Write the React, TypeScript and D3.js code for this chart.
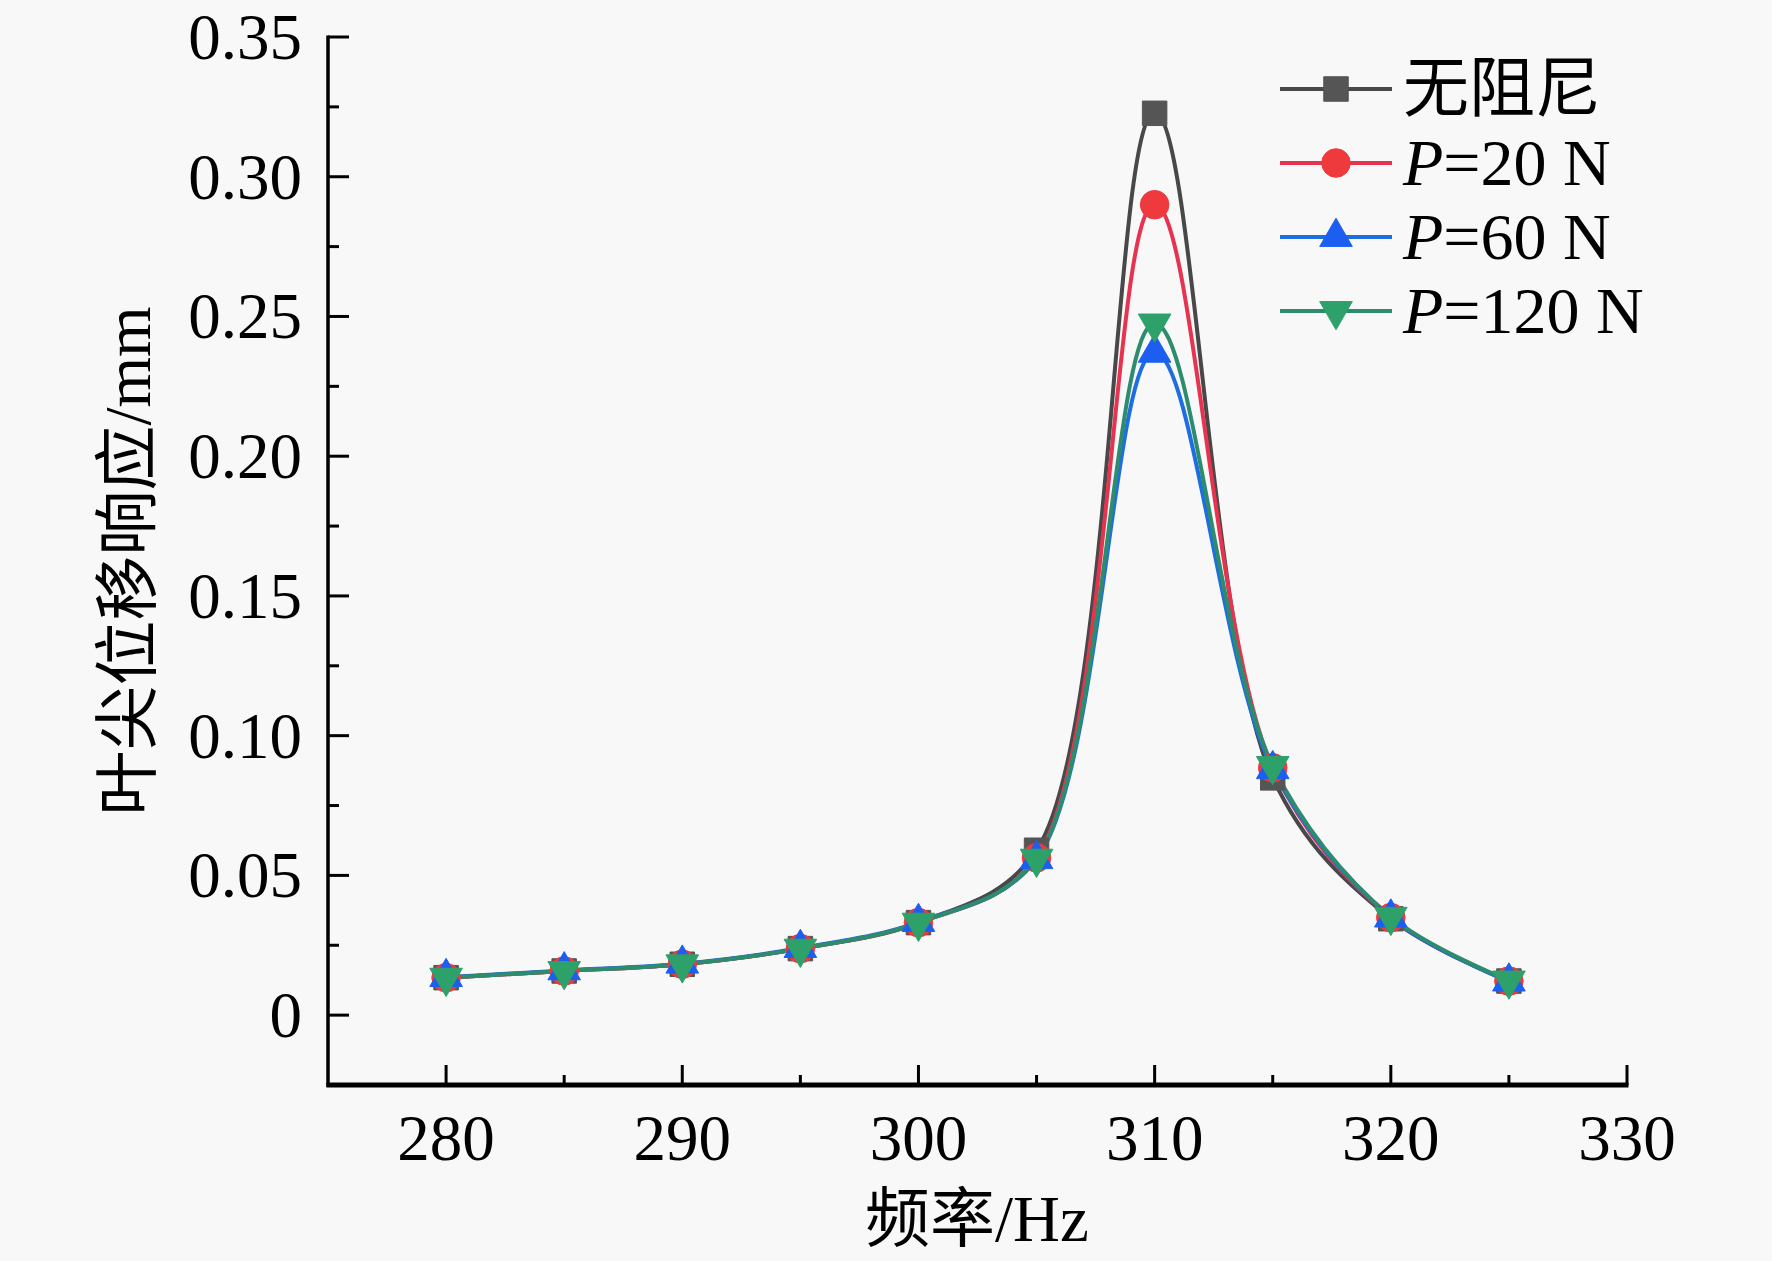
import React from 'react';
import * as d3 from 'd3';

const freq = [280, 285, 290, 295, 300, 305, 310, 315, 320, 325];
const undamped = [0.0134, 0.0158, 0.0182, 0.0238, 0.0331, 0.059, 0.3227, 0.0849, 0.0345, 0.0122];
const p20 = [0.0134, 0.0158, 0.0182, 0.0238, 0.0331, 0.0563, 0.290, 0.0885, 0.0349, 0.0122];
const p60 = [0.0136, 0.016, 0.0184, 0.024, 0.0333, 0.0558, 0.237, 0.088, 0.0349, 0.012];
const p120 = [0.0134, 0.0158, 0.0182, 0.0238, 0.0331, 0.056, 0.2475, 0.0892, 0.0352, 0.0124];

const seriesNames = ['无阻尼', 'P=20 N', 'P=60 N', 'P=120 N'];
const xTicks = [280, 290, 300, 310, 320, 330];
const xMinor = [285, 295, 305, 315, 325];
const yTicks = [0, 0.05, 0.1, 0.15, 0.2, 0.25, 0.3, 0.35];
const yMinor = [0.025, 0.075, 0.125, 0.175, 0.225, 0.275, 0.325];

const W = 1772;
const H = 1261;
const FONT = '"Times New Roman", "Liberation Serif", "Noto Sans CJK SC", serif';

const series = [
  { name: seriesNames[0], values: undamped, line: '#484848', fill: '#555555', shape: 'square' },
  { name: seriesNames[1], values: p20, line: '#e6334f', fill: '#ee3a3c', shape: 'circle' },
  { name: seriesNames[2], values: p60, line: '#1f6ee0', fill: '#1c5ff0', shape: 'up' },
  { name: seriesNames[3], values: p120, line: '#2e8c6e', fill: '#2ea06a', shape: 'down' },
];

function symbolPath(shape: string) {
  if (shape === 'square') return d3.symbol(d3.symbolSquare, 600)()!;
  if (shape === 'circle') return d3.symbol(d3.symbolCircle, 640)()!;
  return d3.symbol(d3.symbolTriangle, 460)()!;
}

function Marker({ x, y, shape, fill }: { x: number; y: number; shape: string; fill: string }) {
  const rot = shape === 'down' ? ' rotate(180)' : '';
  return (
    <path
      d={symbolPath(shape)}
      transform={`translate(${x},${y})${rot}`}
      fill={fill}
      stroke={fill}
      strokeWidth={1}
    />
  );
}

export default function App() {
  const x = d3.scaleLinear().domain([275, 330]).range([328, 1627]);
  const y = d3.scaleLinear().domain([-0.025, 0.35]).range([1085, 37]);

  const line = d3
    .line<number>()
    .x((_, i) => x(freq[i]))
    .y((d) => y(d))
    .curve(d3.curveCatmullRom.alpha(0.5));

  const legendY = [89, 163, 237, 311];

  return (
    <svg
      width={W}
      height={H}
      style={{ position: 'absolute', left: 0, top: 0 }}
      fontFamily={FONT}
    >
      <rect x={0} y={0} width={W} height={H} fill="#f8f8f8" />

      {/* curves */}
      {series.map((s) => (
        <path key={s.name} d={line(s.values)!} fill="none" stroke={s.line} strokeWidth={4} />
      ))}
      {/* markers */}
      {series.map((s) => (
        <g key={s.name + 'm'}>
          {s.values.map((v, i) => (
            <Marker key={i} x={x(freq[i])} y={y(v)} shape={s.shape} fill={s.fill} />
          ))}
        </g>
      ))}

      {/* axes */}
      <line x1={328} x2={328} y1={y(0.35) - 1.5} y2={1087} stroke="#000" strokeWidth={3.5} />
      <line x1={326.5} x2={x(330) + 1.5} y1={1085} y2={1085} stroke="#000" strokeWidth={5} />

      {yTicks.map((t) => (
        <g key={'yt' + t}>
          <line x1={328} x2={349} y1={y(t)} y2={y(t)} stroke="#000" strokeWidth={3} />
          <text x={302} y={y(t)} textAnchor="end" dominantBaseline="central" fontSize={65}>
            {t === 0 ? '0' : d3.format('.2f')(t)}
          </text>
        </g>
      ))}
      {yMinor.map((t) => (
        <line key={'ym' + t} x1={328} x2={339} y1={y(t)} y2={y(t)} stroke="#000" strokeWidth={3} />
      ))}

      {xTicks.map((t) => (
        <g key={'xt' + t}>
          <line x1={x(t)} x2={x(t)} y1={1085} y2={1065} stroke="#000" strokeWidth={3} />
          <text x={x(t)} y={1160} textAnchor="middle" fontSize={65}>
            {t}
          </text>
        </g>
      ))}
      {xMinor.map((t) => (
        <line key={'xm' + t} x1={x(t)} x2={x(t)} y1={1085} y2={1075} stroke="#000" strokeWidth={3} />
      ))}

      {/* axis titles */}
      <text x={977} y={1241} textAnchor="middle" fontSize={65}>
        频率/Hz
      </text>
      <text
        transform="translate(128,561) rotate(-90)"
        textAnchor="middle"
        dominantBaseline="central"
        fontSize={65}
      >
        叶尖位移响应/mm
      </text>

      {/* legend */}
      {series.map((s, i) => (
        <g key={'lg' + i}>
          <line x1={1280} x2={1392} y1={legendY[i]} y2={legendY[i]} stroke={s.line} strokeWidth={4} />
          <Marker x={1336} y={legendY[i]} shape={s.shape} fill={s.fill} />
          <text x={1403} y={legendY[i] + 22} fontSize={66}>
            {i === 0 ? (
              s.name
            ) : (
              <>
                <tspan fontStyle="italic">P</tspan>
                {s.name.slice(1)}
              </>
            )}
          </text>
        </g>
      ))}
    </svg>
  );
}
